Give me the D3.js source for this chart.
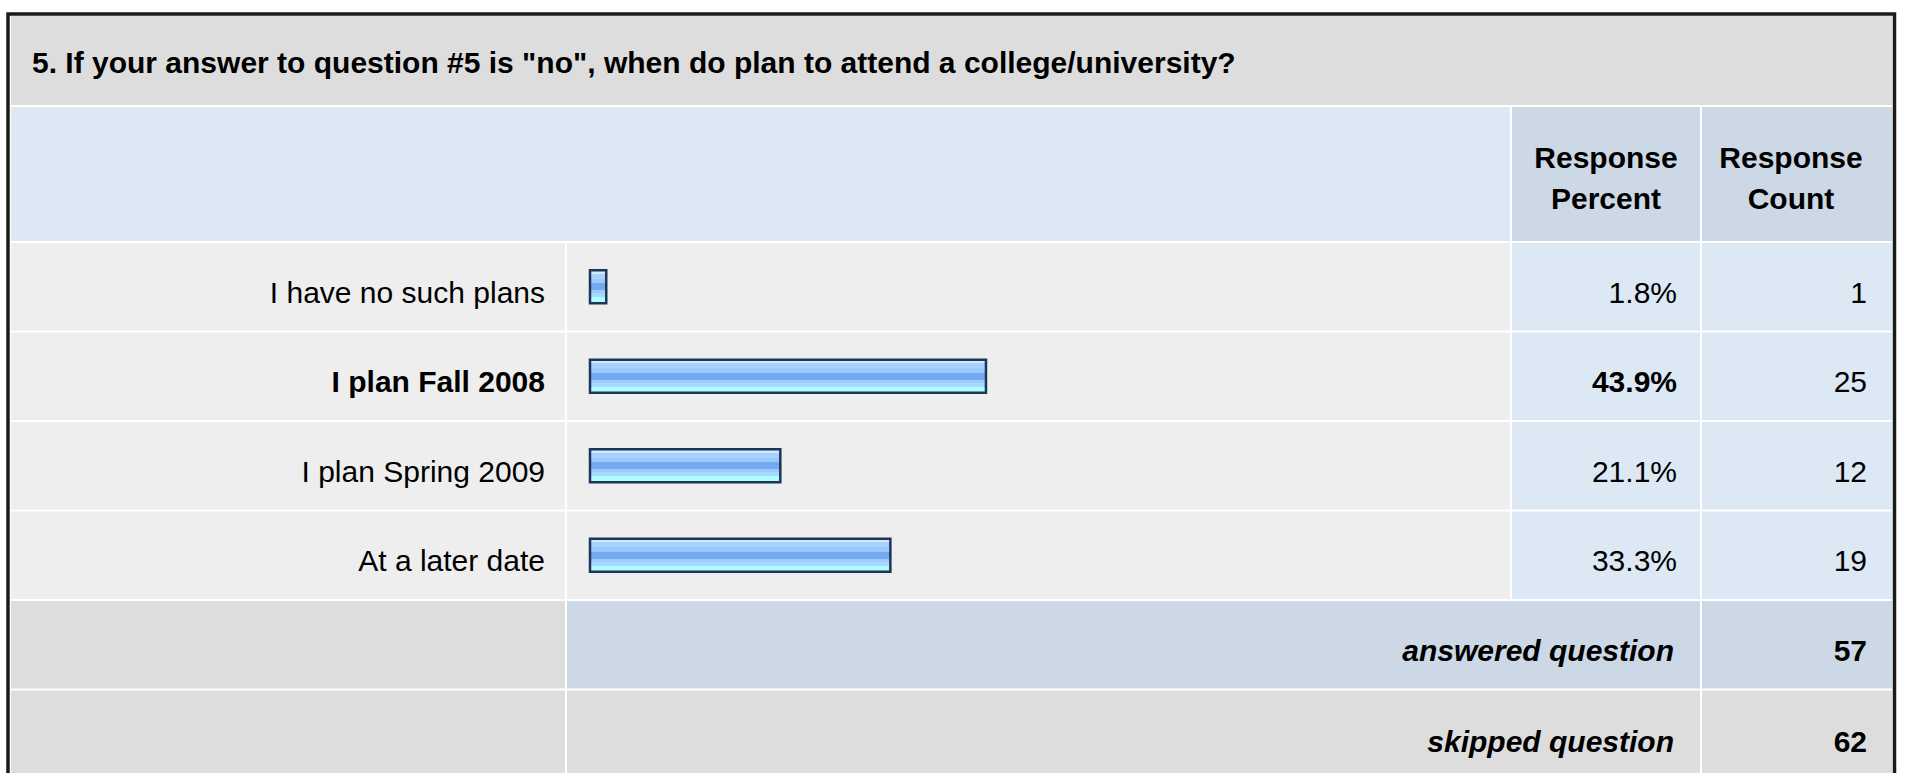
<!DOCTYPE html>
<html>
<head>
<meta charset="utf-8">
<script src="https://cdn.jsdelivr.net/npm/d3@7"></script>
<style>
  html, body { margin: 0; padding: 0; background: #ffffff; }
  svg { display: block; }
  text { font-family: "Liberation Sans", Arial, Helvetica, sans-serif; fill: #000; }
</style>
</head>
<body>
<script>
// ---- data ----
const title = "5. If your answer to question #5 is \"no\", when do plan to attend a college/university?";
const categories = ["I have no such plans", "I plan Fall 2008", "I plan Spring 2009", "At a later date"];
const percents = [1.8, 43.9, 21.1, 33.3];
const counts = [1, 25, 12, 19];
const headerPercent = ["Response", "Percent"];
const headerCount = ["Response", "Count"];
const summaryLabels = ["answered question", "skipped question"];
const summaryValues = [57, 62];

// ---- layout ----
const W = 1907, H = 773;
const FS = 30;
const L = 11, R = 1892;           // content left/right
const colBar = 567, colPct = 1512, colCnt = 1702;
const gap = 2;

const svg = d3.select("body").append("svg").attr("width", W).attr("height", H);

const defs = svg.append("defs");
const grad = defs.append("linearGradient").attr("id", "barGrad")
  .attr("x1", 0).attr("y1", 0).attr("x2", 0).attr("y2", 1);
[
  [0, "#d2eaff"], [0.10, "#d2eaff"], [0.10, "#a7d1ff"], [0.26, "#a7d1ff"],
  [0.26, "#9bc8fd"], [0.39, "#9bc8fd"], [0.39, "#74a9f0"], [0.60, "#74a9f0"],
  [0.60, "#9dcbff"], [0.70, "#9dcbff"], [0.70, "#a8d8ff"], [0.82, "#a8d8ff"],
  [0.82, "#adffff"], [1, "#adffff"]
].forEach(([o, c]) => grad.append("stop").attr("offset", o).attr("stop-color", c));

// title row
svg.append("rect").attr("x", L).attr("y", 16).attr("width", R - L).attr("height", 89).attr("fill", "#dddddd");
svg.append("text").attr("x", 32).attr("y", 73).attr("font-size", FS).attr("font-weight", "bold").text(title);

// header row
const hy0 = 107, hy1 = 241;
svg.append("rect").attr("x", L).attr("y", hy0).attr("width", colPct - gap - L).attr("height", hy1 - hy0).attr("fill", "#dde8f5");
svg.append("rect").attr("x", colPct).attr("y", hy0).attr("width", colCnt - gap - colPct).attr("height", hy1 - hy0).attr("fill", "#cdd8e6");
svg.append("rect").attr("x", colCnt).attr("y", hy0).attr("width", R - colCnt).attr("height", hy1 - hy0).attr("fill", "#cdd8e6");
function headerText(lines, cx) {
  const t = svg.append("text").attr("text-anchor", "middle").attr("font-size", FS).attr("font-weight", "bold");
  lines.forEach((s, i) => t.append("tspan").attr("x", cx).attr("y", 168 + i * 41).text(s));
}
headerText(headerPercent, (colPct + colCnt - gap) / 2);
headerText(headerCount, (colCnt + R) / 2 - 6);

// data rows
const y = d3.scaleBand().domain(categories).range([242, 600]).paddingInner(0);
const x = d3.scaleLinear().domain([0, 100]).range([0, 902]);
const maxV = d3.max(percents);

const rows = svg.append("g").selectAll("g").data(categories).join("g")
  .attr("transform", d => `translate(0,${y(d)})`);
const bh = y.bandwidth();
rows.append("rect").attr("x", L).attr("y", 1).attr("width", colBar - gap - L).attr("height", bh - gap).attr("fill", "#eeeeee");
rows.append("rect").attr("x", colBar).attr("y", 1).attr("width", colPct - gap - colBar).attr("height", bh - gap).attr("fill", "#eeeeee");
rows.append("rect").attr("x", colPct).attr("y", 1).attr("width", colCnt - gap - colPct).attr("height", bh - gap).attr("fill", "#dde8f5");
rows.append("rect").attr("x", colCnt).attr("y", 1).attr("width", R - colCnt).attr("height", bh - gap).attr("fill", "#dde8f5");

const ty = bh / 2 + 16;
rows.append("text").attr("x", 545).attr("y", ty).attr("text-anchor", "end").attr("font-size", FS)
  .attr("font-weight", (d, i) => percents[i] === maxV ? "bold" : "normal").text(d => d);
rows.append("rect").attr("x", 590).attr("y", bh / 2 - 16.5)
  .attr("width", (d, i) => x(percents[i])).attr("height", 33)
  .attr("fill", "url(#barGrad)").attr("stroke", "#1d3557").attr("stroke-width", 2.5);
rows.append("text").attr("x", 1677).attr("y", ty).attr("text-anchor", "end").attr("font-size", FS)
  .attr("font-weight", (d, i) => percents[i] === maxV ? "bold" : "normal")
  .text((d, i) => d3.format(".1f")(percents[i]) + "%");
rows.append("text").attr("x", 1867).attr("y", ty).attr("text-anchor", "end").attr("font-size", FS)
  .text((d, i) => counts[i]);

// summary rows
const sy = d3.scaleBand().domain(summaryLabels).range([600, 779]);
const srows = svg.append("g").selectAll("g").data(summaryLabels).join("g")
  .attr("transform", d => `translate(0,${sy(d)})`);
const sh = sy.bandwidth();
const sFill = ["#cdd8e6", "#dddddd"];
srows.append("rect").attr("x", L).attr("y", 1).attr("width", colBar - gap - L).attr("height", sh - gap).attr("fill", "#dddddd");
srows.append("rect").attr("x", colBar).attr("y", 1).attr("width", colCnt - gap - colBar).attr("height", sh - gap).attr("fill", (d, i) => sFill[i]);
srows.append("rect").attr("x", colCnt).attr("y", 1).attr("width", R - colCnt).attr("height", sh - gap).attr("fill", (d, i) => sFill[i]);
srows.append("text").attr("x", 1674).attr("y", (d, i) => sh / 2 + 16 + i * 2).attr("text-anchor", "end").attr("font-size", FS)
  .attr("font-weight", "bold").attr("font-style", "italic").text(d => d);
srows.append("text").attr("x", 1867).attr("y", (d, i) => sh / 2 + 16 + i * 2).attr("text-anchor", "end").attr("font-size", FS)
  .attr("font-weight", "bold").text((d, i) => summaryValues[i]);

// outer frame
svg.append("rect").attr("x", 8).attr("y", 14).attr("width", 1886.5).attr("height", 820)
  .attr("fill", "none").attr("stroke", "#1a1a1a").attr("stroke-width", 3.5);
</script>
</body>
</html>
